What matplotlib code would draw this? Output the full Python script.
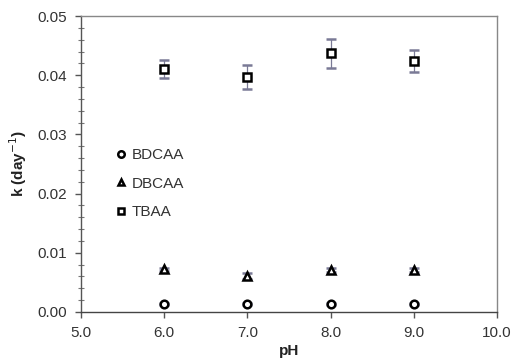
import matplotlib.pyplot as plt
from matplotlib.ticker import MultipleLocator, FormatStrFormatter

plt.rcParams['font.family'] = ['Liberation Sans', 'DejaVu Sans']

ph = [6.0, 7.0, 8.0, 9.0]
k_bdcaa = [0.0013, 0.0013, 0.0013, 0.0013]
k_dbcaa = [0.0072, 0.0061, 0.0071, 0.0071]
k_tbaa = [0.0410, 0.0397, 0.0437, 0.0424]
err_bdcaa = [0.0002, 0.0002, 0.0002, 0.0002]
err_dbcaa = [0.0003, 0.0005, 0.0003, 0.0003]
err_tbaa = [0.0015, 0.0021, 0.0024, 0.0018]

fig = plt.figure(figsize=(5.17, 3.64), dpi=100)
ax = fig.add_axes([0.157, 0.143, 0.804, 0.813])

ecol = '#7a7a96'
for y, e, m, lab in [(k_bdcaa, err_bdcaa, 'o', 'BDCAA'),
                     (k_dbcaa, err_dbcaa, '^', 'DBCAA'),
                     (k_tbaa, err_tbaa, 's', 'TBAA')]:
	ax.errorbar(ph, y, yerr=e, fmt=m, ms=5.5, mfc='white', mec='black', mew=1.8,
	            ecolor=ecol, elinewidth=0.9, capsize=3.5, capthick=0.9, label=lab)

ax.set_xlim(5, 10)
ax.set_ylim(0, 0.05)
ax.xaxis.set_major_locator(MultipleLocator(1))
ax.xaxis.set_major_formatter(FormatStrFormatter('%.1f'))
ax.yaxis.set_major_locator(MultipleLocator(0.01))
ax.yaxis.set_minor_locator(MultipleLocator(0.002))
ax.yaxis.set_major_formatter(FormatStrFormatter('%.2f'))

ax.tick_params(axis='both', which='major', direction='out', length=4, width=1,
               color='#555555', labelsize=11, labelcolor='#333333', pad=6)
ax.tick_params(axis='y', which='minor', direction='inout', length=4, width=0.8, color='#777777')

ax.spines['left'].set_color('#555555')
ax.spines['bottom'].set_color('#444444')
ax.spines['top'].set_color('#888888')
ax.spines['right'].set_color('#888888')
for s in ax.spines.values():
	s.set_linewidth(1)

ax.set_xlabel('pH', fontsize=11, fontweight='bold', color='#222222', labelpad=3)
ax.set_ylabel('k (day$^{-1}$)', fontsize=11, fontweight='bold', color='#222222', labelpad=6)

handles, labels = ax.get_legend_handles_labels()
handles = [h[0] for h in handles]
ax.legend(handles, labels, loc='upper left', bbox_to_anchor=(0.045, 0.6), frameon=False,
          fontsize=11, handletextpad=0.2, handlelength=1.0, labelspacing=0.95, labelcolor='#333333',
          markerscale=0.85)

fig.savefig('out.png', dpi=100)
